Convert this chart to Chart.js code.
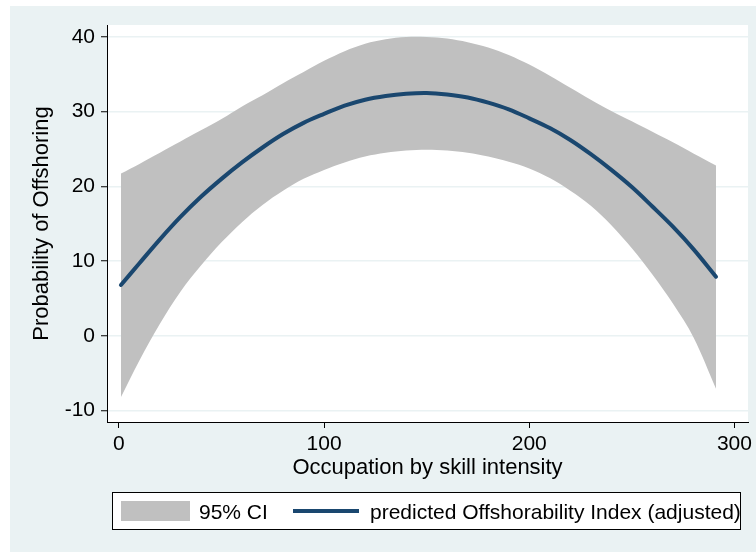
<!DOCTYPE html>
<html>
<head>
<meta charset="utf-8">
<script src="https://cdn.jsdelivr.net/npm/chart.js@4.4.1/dist/chart.umd.min.js"></script>
<style>
  html, body { margin: 0; padding: 0; background: #ffffff; }
  #wrap { width: 756px; height: 552px; }
</style>
</head>
<body>
<div id="wrap"><canvas id="chart" width="756" height="552"></canvas></div>
<script>
// data
const skillX = [1, 10, 20, 30, 40, 50, 60, 70, 80, 90, 100, 110, 120, 130, 140, 150, 160, 170, 180, 190, 200, 210, 220, 230, 240, 250, 260, 270, 280, 291];
const predicted = [6.8, 9.7, 12.9, 15.9, 18.6, 21.0, 23.2, 25.2, 27.0, 28.5, 29.7, 30.8, 31.6, 32.1, 32.4, 32.5, 32.3, 31.9, 31.2, 30.3, 29.1, 27.8, 26.2, 24.3, 22.2, 19.9, 17.3, 14.6, 11.6, 7.9];
const ciUpper = [21.7, 23.0, 24.5, 26.0, 27.5, 29.0, 30.7, 32.2, 33.8, 35.3, 36.8, 38.1, 39.1, 39.7, 40.0, 40.0, 39.8, 39.3, 38.6, 37.6, 36.3, 34.8, 33.2, 31.6, 30.1, 28.7, 27.3, 25.9, 24.4, 22.8];
const ciLower = [-8.2, -3.3, 1.6, 5.9, 9.4, 12.5, 15.2, 17.5, 19.4, 21.0, 22.2, 23.2, 24.0, 24.5, 24.8, 24.9, 24.8, 24.5, 24.0, 23.3, 22.4, 21.1, 19.4, 17.4, 14.8, 11.7, 8.2, 4.3, -0.2, -7.1];
const xTicks = [0, 100, 200, 300];
const yTicks = [-10, 0, 10, 20, 30, 40];

const FONT = "'Liberation Sans', Arial, Helvetica, sans-serif";
const bandColor = '#c0c0c0';
const lineColor = '#1a476f';
const bgColor = '#eaf2f3';

function pts(ys) {
  return skillX.map((x, i) => ({ x: x, y: ys[i] }));
}

// 背景：外框浅蓝灰，绘图区白色
const backgroundPlugin = {
  id: 'stataBackground',
  beforeDraw(chart) {
    const ctx = chart.ctx;
    const a = chart.chartArea;
    ctx.save();
    ctx.fillStyle = '#ffffff';
    ctx.fillRect(0, 0, chart.width, chart.height);
    ctx.fillStyle = bgColor;
    ctx.fillRect(10, 6, chart.width - 10, chart.height - 6);
    ctx.fillStyle = '#ffffff';
    ctx.fillRect(a.left, a.top, a.right - a.left, a.bottom - a.top);
    ctx.restore();
  }
};

// 底部图例（带边框）
const legendPlugin = {
  id: 'stataLegend',
  afterDraw(chart) {
    const ctx = chart.ctx;
    const ds = chart.data.datasets;
    ctx.save();
    ctx.fillStyle = '#ffffff';
    ctx.fillRect(113, 493, 628, 37);
    ctx.strokeStyle = '#000000';
    ctx.lineWidth = 1;
    ctx.strokeRect(112.5, 492.5, 628, 37);

    ctx.fillStyle = bandColor;
    ctx.fillRect(121, 501, 69, 20);

    ctx.strokeStyle = lineColor;
    ctx.lineWidth = 4;
    ctx.beginPath();
    ctx.moveTo(293, 511);
    ctx.lineTo(359, 511);
    ctx.stroke();

    ctx.fillStyle = '#000000';
    ctx.font = '21px ' + FONT;
    ctx.textBaseline = 'alphabetic';
    ctx.textAlign = 'left';
    ctx.fillText(ds[0].label, 199, 519);
    ctx.fillText(ds[2].label, 370, 519);
    ctx.restore();
  }
};

const ctx = document.getElementById('chart');
const chart = new Chart(ctx, {
  type: 'line',
  data: {
    datasets: [
      {
        label: '95% CI',
        data: pts(ciUpper),
        borderWidth: 0,
        borderColor: bandColor,
        backgroundColor: bandColor,
        pointRadius: 0,
        fill: '+1',
        tension: 0.35,
        order: 2
      },
      {
        label: 'lower',
        data: pts(ciLower),
        borderWidth: 0,
        borderColor: bandColor,
        pointRadius: 0,
        fill: false,
        tension: 0.35,
        order: 2
      },
      {
        label: 'predicted Offshorability Index (adjusted)',
        data: pts(predicted),
        borderWidth: 4,
        borderColor: lineColor,
        borderCapStyle: 'round',
        pointRadius: 0,
        fill: false,
        tension: 0.35,
        order: 0
      }
    ]
  },
  options: {
    responsive: false,
    devicePixelRatio: 1,
    animation: false,
    layout: { padding: { left: 10, right: 8, top: 25, bottom: 70 } },
    plugins: {
      legend: { display: false },
      tooltip: { enabled: false }
    },
    scales: {
      x: {
        type: 'linear',
        min: -5.8,
        max: 306.6,
        afterBuildTicks: s => { s.ticks = xTicks.map(v => ({ value: v })); },
        afterFit: s => { s.height = 60; s.paddingLeft = 0; s.paddingRight = 0; },
        border: { color: '#000000', width: 1 },
        grid: { drawOnChartArea: false, drawTicks: true, tickLength: 6, tickColor: '#000000' },
        ticks: { color: '#000000', padding: 4, maxRotation: 0, autoSkip: false, font: { family: FONT, size: 21 } },
        title: {
          display: true,
          text: 'Occupation by skill intensity',
          color: '#000000',
          padding: { top: 0, bottom: 1 },
          font: { family: FONT, size: 22 }
        }
      },
      y: {
        type: 'linear',
        min: -11.55,
        max: 41.6,
        afterBuildTicks: s => { s.ticks = yTicks.map(v => ({ value: v })); },
        afterFit: s => { s.width = 97; s.paddingTop = 0; s.paddingBottom = 0; },
        border: { color: '#000000', width: 1 },
        grid: { color: bgColor, lineWidth: 1.5, tickLength: 6, tickColor: '#000000', tickWidth: 1 },
        ticks: { color: '#000000', padding: 6, font: { family: FONT, size: 21 } },
        title: {
          display: true,
          text: 'Probability of Offshoring',
          color: '#000000',
          padding: { top: 19, bottom: 0 },
          font: { family: FONT, size: 22 }
        }
      }
    }
  },
  plugins: [backgroundPlugin, legendPlugin]
});
</script>
</body>
</html>
